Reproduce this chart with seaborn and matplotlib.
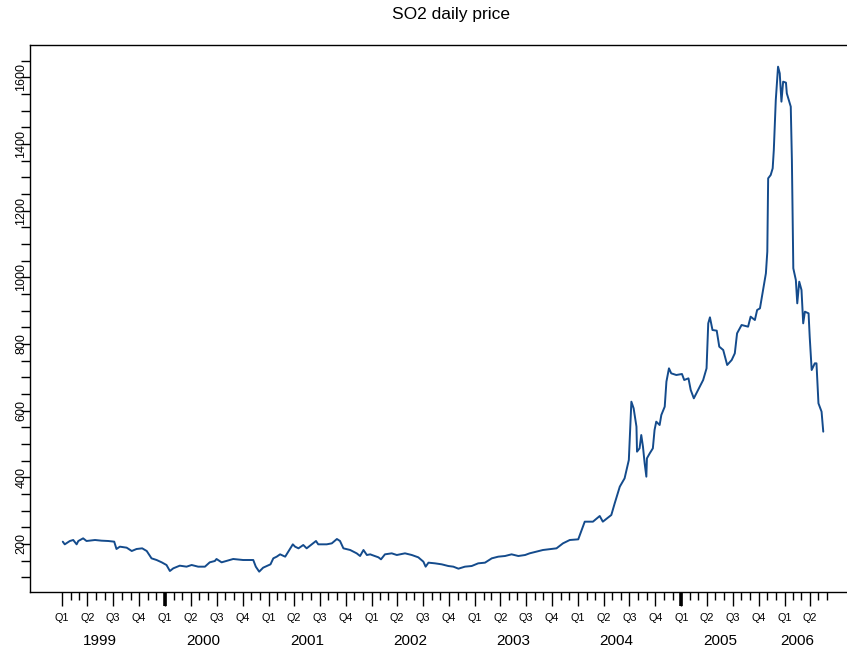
import numpy as np
import pandas as pd
import matplotlib
matplotlib.use("Agg")
import matplotlib.pyplot as plt
import matplotlib.dates as mdates
import matplotlib.transforms as mtransforms
import seaborn as sns

# ---- data ----
dates = [
    "1999-01-04", "1999-01-11", "1999-01-29", "1999-02-10", "1999-02-22", "1999-02-28",
    "1999-03-17", "1999-03-29", "1999-04-28", "1999-05-21", "1999-06-14", "1999-07-05",
    "1999-07-13", "1999-07-25", "1999-08-18", "1999-09-05", "1999-09-22", "1999-10-12",
    "1999-10-28", "1999-11-14", "1999-12-02", "1999-12-20",
    "2000-01-06", "2000-01-18", "2000-01-30", "2000-02-22", "2000-03-17", "2000-04-04",
    "2000-04-27", "2000-05-21", "2000-06-07", "2000-06-25", "2000-07-01", "2000-07-19",
    "2000-08-29", "2000-10-03", "2000-11-08", "2000-11-17", "2000-11-29", "2000-12-13",
    "2001-01-08", "2001-01-18", "2001-01-30", "2001-02-11", "2001-03-01", "2001-03-12",
    "2001-03-28", "2001-04-05", "2001-04-17", "2001-05-04", "2001-05-16", "2001-05-28",
    "2001-06-18", "2001-06-26", "2001-07-26", "2001-08-13", "2001-08-31", "2001-09-11",
    "2001-09-23", "2001-10-17", "2001-11-09", "2001-11-21", "2001-12-03", "2001-12-15",
    "2001-12-27",
    "2002-01-02", "2002-01-25", "2002-02-03", "2002-02-17", "2002-03-13", "2002-03-31",
    "2002-04-29", "2002-05-23", "2002-06-15", "2002-07-03", "2002-07-11", "2002-07-21",
    "2002-08-13", "2002-09-06", "2002-09-29", "2002-10-17", "2002-11-04", "2002-11-27",
    "2002-12-21",
    "2003-01-13", "2003-02-06", "2003-03-02", "2003-03-25", "2003-04-18", "2003-05-11",
    "2003-06-04", "2003-06-28", "2003-07-14", "2003-08-30", "2003-10-17", "2003-11-09",
    "2003-12-03",
    "2004-01-02", "2004-01-25", "2004-02-23", "2004-03-18", "2004-03-29", "2004-04-28",
    "2004-05-10", "2004-05-28", "2004-06-14", "2004-06-29", "2004-07-08", "2004-07-16",
    "2004-07-26", "2004-07-28", "2004-08-06", "2004-08-12", "2004-08-18", "2004-08-24",
    "2004-08-30", "2004-09-01", "2004-09-11", "2004-09-22", "2004-09-28", "2004-10-04",
    "2004-10-16", "2004-10-22", "2004-11-03", "2004-11-09", "2004-11-18", "2004-11-26",
    "2004-12-14",
    "2005-01-03", "2005-01-11", "2005-01-26", "2005-02-03", "2005-02-14", "2005-03-01",
    "2005-03-19", "2005-03-31", "2005-04-06", "2005-04-12", "2005-04-21", "2005-05-06",
    "2005-05-15", "2005-05-29", "2005-06-12", "2005-06-28", "2005-07-09", "2005-07-17",
    "2005-08-02", "2005-08-25", "2005-09-03", "2005-09-18", "2005-09-26", "2005-10-06",
    "2005-10-17", "2005-10-27", "2005-11-01", "2005-11-04", "2005-11-13", "2005-11-20",
    "2005-11-24", "2005-12-01", "2005-12-09", "2005-12-15", "2005-12-21", "2005-12-27",
    "2006-01-06", "2006-01-09", "2006-01-18", "2006-01-23", "2006-01-27", "2006-02-01",
    "2006-02-10", "2006-02-15", "2006-02-22", "2006-03-02", "2006-03-08", "2006-03-14",
    "2006-03-27", "2006-03-31", "2006-04-07", "2006-04-18", "2006-04-24", "2006-05-01",
    "2006-05-12", "2006-05-18",
]
prices = [
    207, 199, 209, 212, 199, 209,
    217, 209, 212, 210, 209, 207,
    185, 192, 189, 179, 185, 187,
    179, 157, 152, 145,
    137, 119, 127, 135, 132, 137,
    132, 132, 145, 149, 155, 145,
    155, 152, 152, 132, 117, 129,
    139, 157, 162, 169, 162, 177,
    199, 192, 187, 197, 187, 195,
    209, 199, 199, 202, 215, 209,
    187, 182, 172, 164, 182, 167,
    169,
    167, 160, 154, 169, 172, 167,
    172, 167, 160, 147, 132, 144,
    142, 139, 134, 132, 126, 132,
    134,
    142, 144, 157, 162, 164, 169,
    164, 167, 172, 182, 187, 202,
    212,
    214, 267, 267, 284, 267, 287,
    322, 372, 397, 452, 627, 607,
    552, 477, 487, 527, 492, 442,
    402, 457, 472, 487, 542, 567,
    557, 587, 612, 687, 727, 712,
    707,
    710, 692, 697, 662, 637, 662,
    692, 727, 862, 880, 842, 840,
    792, 782, 737, 752, 772, 832,
    857, 852, 882, 872, 902, 907,
    962, 1012, 1077, 1297, 1307, 1327,
    1382, 1532, 1632, 1612, 1527, 1587,
    1584, 1552, 1527, 1512, 1352, 1027,
    992, 922, 987, 962, 862, 897,
    892, 822, 722, 742, 742, 622,
    597, 537,
]
quarter_names = ["Q1", "Q2", "Q3", "Q4"]
years = [1999, 2000, 2001, 2002, 2003, 2004, 2005, 2006]
y_major = [200, 400, 600, 800, 1000, 1200, 1400, 1600]
title = "SO2 daily price"

# ---- style ----
sns.set_theme(style="white")
plt.rcParams["font.family"] = ["Liberation Sans", "DejaVu Sans"]

W, H = 847, 649
fig = plt.figure(figsize=(W / 100, H / 100), dpi=100)
ax = fig.add_axes([30 / W, 57 / H, 1 - 30 / W, 547 / H])

df = pd.DataFrame({"date": pd.to_datetime(dates), "price": prices})
sns.lineplot(data=df, x="date", y="price", ax=ax, color="#144b8c", linewidth=1.4)

ax.set_xlim(pd.Timestamp("1998-09-10"), pd.Timestamp("2006-08-10"))
ax.set_ylim(56, 1697)
ax.set_xlabel("")
ax.set_ylabel("")
fig.text(451 / W, 1 - 15 / H, title, ha="center", va="center", fontsize=12.5,
         color="black")

for s in ["left", "bottom", "top"]:
    ax.spines[s].set_visible(True)
    ax.spines[s].set_color("black")
    ax.spines[s].set_linewidth(1.0)
ax.spines["right"].set_visible(False)

# x ticks: quarters (major, labelled) and months (minor)
q_starts = pd.date_range("1999-01-01", "2006-04-01", freq="QS")
months = pd.date_range("1999-01-01", "2006-06-01", freq="MS")
minor_months = [m for m in months if m.month not in (1, 4, 7, 10)]
ax.set_xticks(mdates.date2num(q_starts))
ax.set_xticklabels([quarter_names[(d.month - 1) // 3] for d in q_starts])
ax.set_xticks(mdates.date2num(minor_months), minor=True)
ax.tick_params(axis="x", which="major", bottom=True, direction="out", length=10,
               width=1.0, color="black", pad=5, labelsize=7.8, labelcolor="black")
ax.tick_params(axis="x", which="minor", bottom=True, direction="out", length=6,
               width=1.0, color="black")

# thick ticks every five years
sec = ax.secondary_xaxis("bottom")
sec.set_xticks(mdates.date2num([pd.Timestamp("2000-01-01"), pd.Timestamp("2005-01-01")]))
sec.set_xticklabels(["", ""])
sec.tick_params(axis="x", bottom=True, length=10, width=2.6, color="black")
sec.spines["bottom"].set_visible(False)

# year labels centred under their quarter labels
trans = mtransforms.blended_transform_factory(ax.transData, ax.transAxes)
for yr in years:
    qs = [mdates.date2num(d) for d in q_starts if d.year == yr]
    ax.text(np.mean(qs), -0.0969, str(yr), transform=trans, ha="center",
            va="baseline", fontsize=11, color="black")

# y ticks
ax.set_yticks(y_major)
ax.set_yticks(np.arange(100, 1651, 50), minor=True)
ax.tick_params(axis="y", which="both", left=True, direction="out", length=6.5,
               width=1.0, color="black", pad=-4.5, labelsize=9, labelcolor="black")
for lbl in ax.get_yticklabels():
    lbl.set_rotation(90)
    lbl.set_va("center")

ax.grid(False)
fig.savefig("out.png", dpi=100)
